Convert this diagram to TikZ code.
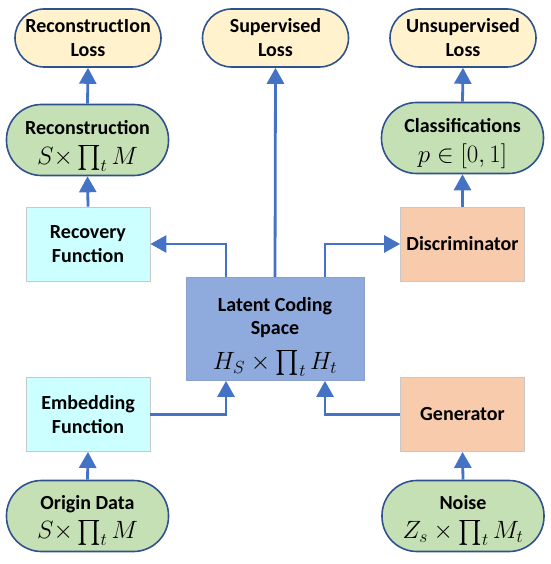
\RequirePackage{fix-cm}
\documentclass[tikz,border=0pt]{standalone}
\usepackage{exscale}
\usepackage{fontspec}
\setmainfont{Carlito}
\usetikzlibrary{arrows.meta}
\definecolor{lossfill}{HTML}{FFF2CC}
\definecolor{greenfill}{HTML}{C5E0B4}
\definecolor{cyanfill}{HTML}{CCFFFF}
\definecolor{peachfill}{HTML}{F8CBAD}
\definecolor{latentfill}{HTML}{8FAADC}
\definecolor{darkedge}{HTML}{2F528F}
\definecolor{grayedge}{HTML}{C8C8C8}
\definecolor{arrowblue}{HTML}{4472C4}
\tikzset{
  lossbox/.style={draw=darkedge, line width=1.6pt, fill=lossfill, rounded corners=29pt,
    minimum width=146pt, minimum height=58pt, inner sep=0pt, align=center,
    font=\fontsize{20}{24}\selectfont\bfseries},
  greenbox/.style={draw=darkedge, line width=1.6pt, fill=greenfill, rounded corners=35pt,
    minimum width=162pt, minimum height=71pt, inner sep=0pt, align=center,
    font=\fontsize{20}{22}\selectfont\bfseries},
  funcbox/.style={draw=grayedge, line width=0.8pt, fill=cyanfill,
    minimum width=124pt, minimum height=74pt, inner sep=0pt, align=center,
    font=\fontsize{20}{24}\selectfont\bfseries},
  ganbox/.style={funcbox, fill=peachfill},
  latentbox/.style={draw=latentfill!80!gray, line width=0.8pt, fill=latentfill,
    minimum width=178pt, minimum height=103pt, inner sep=0pt, align=center,
    font=\fontsize{20}{23}\selectfont\bfseries},
  conn/.style={draw=arrowblue, line width=2.8pt, -{Triangle[width=17pt,length=16pt]}}
}
\newcommand{\bigmath}[1]{{\fontsize{25}{27}\selectfont$#1$}}
\newcommand{\lowered}[2]{\raisebox{-#1}[\height][\depth]{\begin{tabular}{@{}c@{}}#2\end{tabular}}}
\begin{document}
\begin{tikzpicture}[x=1pt,y=-1pt]
\useasboundingbox (0,0) rectangle (550,564);
% loss nodes
\node[lossbox] (rloss) at (88,38) {\lowered{2pt}{ReconstructIon\\Loss}};
\node[lossbox] (sloss) at (275.5,38) {\lowered{2pt}{Supervised\\Loss}};
\node[lossbox] (uloss) at (463,38) {\lowered{2pt}{Unsupervised\\Loss}};
% green nodes
\node[greenbox] (recon) at (87.5,140) {\lowered{5pt}{Reconstruction\\[5pt]\bigmath{S{\times}\prod\nolimits_t M}}};
\node[greenbox] (cls) at (462.5,138) {\lowered{5pt}{Classifications\\[5pt]\bigmath{p\in[0,1]}}};
\node[greenbox] (origin) at (87.5,516) {\lowered{4pt}{Origin Data\\[4pt]\bigmath{S{\times}\prod\nolimits_t M}}};
\node[greenbox] (noise) at (463,516) {\lowered{4pt}{Noise\\[4pt]\bigmath{Z_s\times\prod\nolimits_t M_t}}};
% function boxes
\node[funcbox] (recov) at (88,244) {Recovery\\Function};
\node[funcbox] (embed) at (88,414.5) {Embedding\\Function};
\node[ganbox] (disc) at (462.5,244) {Discriminator};
\node[ganbox] (gen) at (462.5,414.5) {Generator};
% latent
\node[latentbox] (lat) at (275,329) {\lowered{7pt}{Latent Coding\\Space\\[9pt]\bigmath{H_S\times\prod\nolimits_t H_t}}};
% connectors
\draw[conn] (recon.north) -- (rloss.south);
\draw[conn] (recov.north) -- (recon.south);
\draw[conn] ([xshift=-49pt]lat.north) |- (recov.east);
\draw[conn] (lat.north) -- (sloss.south);
\draw[conn] ([xshift=50pt]lat.north) |- (disc.west);
\draw[conn] (disc.north) -- (cls.south);
\draw[conn] (cls.north) -- (uloss.south);
\draw[conn] (embed.east) -| ([xshift=-49pt]lat.south);
\draw[conn] (gen.west) -| ([xshift=50pt]lat.south);
\draw[conn] (origin.north) -- (embed.south);
\draw[conn] (noise.north) -- (gen.south);
\end{tikzpicture}
\end{document}
